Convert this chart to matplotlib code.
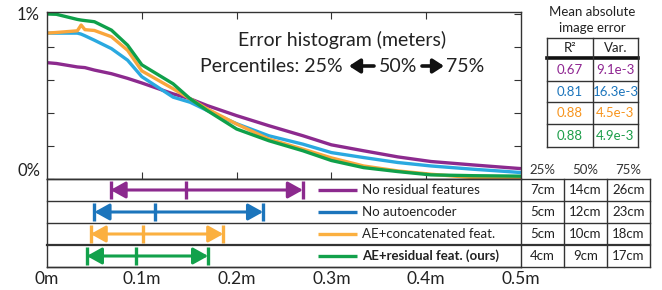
import numpy as np
import matplotlib.pyplot as plt

plt.rcParams['font.family'] = ['Lato', 'DejaVu Sans']

# error histogram, x in meters, y in percent
dist_m = [0, 0.01, 0.032, 0.036, 0.04, 0.05, 0.068, 0.085, 0.1, 0.133, 0.151, 0.169,
          0.2, 0.234, 0.27, 0.3, 0.334, 0.37, 0.405, 0.45, 0.486, 0.5]
hist_no_residual = [0.705, 0.70, 0.679, 0.677, 0.675, 0.66, 0.638, 0.61, 0.582, 0.516, 0.486, 0.445,
                    0.384, 0.323, 0.262, 0.207, 0.171, 0.134, 0.106, 0.085, 0.069, 0.063]
hist_no_ae = [0.884, 0.884, 0.884, 0.878, 0.868, 0.841, 0.79, 0.72, 0.62, 0.496, 0.465, 0.415,
              0.335, 0.262, 0.211, 0.16, 0.13, 0.10, 0.079, 0.059, 0.045, 0.039]
hist_concat = [0.884, 0.888, 0.898, 0.933, 0.905, 0.90, 0.862, 0.78, 0.655, 0.547, 0.486, 0.425,
               0.333, 0.242, 0.181, 0.128, 0.079, 0.049, 0.029, 0.008, 0.003, 0.003]
hist_ours = [1.0, 0.998, 0.967, 0.963, 0.96, 0.953, 0.902, 0.811, 0.692, 0.577, 0.486, 0.415,
             0.303, 0.232, 0.171, 0.112, 0.069, 0.045, 0.025, 0.020, 0.018, 0.017]

methods = ['No residual features', 'No autoencoder', 'AE+concatenated feat.', 'AE+residual feat. (ours)']
p25 = [0.067, 0.050, 0.046, 0.042]
p50 = [0.147, 0.114, 0.101, 0.094]
p75 = [0.270, 0.228, 0.186, 0.170]
pct_text = [['7cm', '14cm', '26cm'], ['5cm', '12cm', '23cm'],
            ['5cm', '10cm', '18cm'], ['4cm', '9cm', '17cm']]
r2 = ['0.67', '0.81', '0.88', '0.88']
var = ['9.1e-3', '16.3e-3', '4.5e-3', '4.9e-3']

curve_colors = ['#8C2A8E', '#2AA9E0', '#F9A63C', '#0FA04A']
bar_colors = ['#8C2A8E', '#1C75BC', '#FBB040', '#12A14B']
text_colors = ['#8E2491', '#1C75BC', '#F7941D', '#1D9E4A']
edge = '#333333'
ink = '#222222'

W, H = 662, 290
fig = plt.figure(figsize=(W / 100, H / 100), dpi=100)


def box(x0, y0, x1, y1):
    return [x0 / W, 1 - y1 / H, (x1 - x0) / W, (y1 - y0) / H]


# histogram
ax = fig.add_axes(box(47, 12, 521, 179))
for ys, c in zip([hist_no_residual, hist_no_ae, hist_concat, hist_ours], curve_colors):
    ax.plot(dist_m, ys, color=c, lw=2.4, solid_capstyle='butt')
ax.set_xlim(0, 0.5)
ax.set_ylim(0, 1.012)
ax.set_xticks([0.1, 0.2, 0.3, 0.4])
ax.set_xticklabels([])
ax.set_yticks([0, 0.2, 0.4, 0.6, 0.8, 1.0])
ax.set_yticklabels(['0%', '', '', '', '', '1%'], fontsize=12, color=ink)
ax.get_yticklabels()[0].set_va('bottom')
ax.tick_params(direction='in', top=True, right=True, length=5, width=0.8, color=edge, pad=5)
for s in ax.spines.values():
    s.set_color(edge)
    s.set_linewidth(1.0)

# percentile bars
axb = fig.add_axes(box(47, 179, 521, 267))
axb.set_xlim(0, 0.5)
axb.set_ylim(4, 0)
for i in range(4):
    row = i + 0.5
    c = bar_colors[i]
    axb.annotate('', xy=(p75[i], row), xytext=(p25[i], row),
                 arrowprops=dict(arrowstyle='<|-|>,head_length=0.9,head_width=0.5',
                                 color=c, lw=2.2, shrinkA=0, shrinkB=0))
    axb.vlines([p25[i], p50[i], p75[i]], row - 0.42, row + 0.42, color=c, lw=2.4)
axb.set_yticks([])
axb.set_xticks([0, 0.1, 0.2, 0.3, 0.4, 0.5])
axb.set_xticklabels(['0m', '0.1m', '0.2m', '0.3m', '0.4m', '0.5m'], fontsize=12.5, color=ink)
axb.tick_params(axis='x', length=0, pad=3)
for s in axb.spines.values():
    s.set_color(edge)
    s.set_linewidth(1.0)

# overlay for title, legend and tables (pixel coordinates)
ov = fig.add_axes([0, 0, 1, 1])
ov.set_xlim(0, W)
ov.set_ylim(H, 0)
ov.axis('off')
ov.patch.set_visible(False)

ov.text(342, 40, 'Error histogram (meters)', fontsize=14, color=ink, ha='center', va='center')
ov.text(343, 66, 'Percentiles: 25%', fontsize=14, color=ink, ha='right', va='center')
ov.text(398, 66, '50%', fontsize=14, color=ink, ha='center', va='center')
ov.text(446, 66, '75%', fontsize=14, color=ink, ha='left', va='center')
arrow = dict(arrowstyle='-|>,head_length=0.65,head_width=0.42', color='#111111', lw=2.6,
             shrinkA=0, shrinkB=0)
ov.annotate('', xy=(349, 66), xytext=(374, 66), arrowprops=arrow)
ov.annotate('', xy=(444, 66), xytext=(422, 66), arrowprops=arrow)

row_y = [179, 201, 223, 245, 267]
for k, y in enumerate(row_y):
    lw = 1.6 if k == 3 else 1.0
    ov.plot([47, 650], [y, y], color=edge, lw=lw)
for x in [564, 607, 650]:
    ov.plot([x, x], [179, 267], color=edge, lw=1.0)

for i, name in enumerate(methods):
    yc = (row_y[i] + row_y[i + 1]) / 2
    ov.plot([318, 357], [yc, yc], color=bar_colors[i], lw=2.4, solid_capstyle='butt')
    ov.text(362, yc, name, fontsize=9.5, color=ink, va='center', ha='left',
            fontweight='bold' if i == 3 else 'normal')
    for j, t in enumerate(pct_text[i]):
        ov.text([542.5, 585.5, 628.5][j], yc, t, fontsize=9.5, color=ink,
                ha='center', va='center')

for x, t in zip([542.5, 585.5, 628.5], ['25%', '50%', '75%']):
    ov.text(x, 170, t, fontsize=9.5, color='#333333', ha='center', va='center')

# mean absolute image error table
ov.text(592, 12, 'Mean absolute', fontsize=9.5, color=ink, ha='center', va='center')
ov.text(592, 28, 'image error', fontsize=9.5, color=ink, ha='center', va='center')
tab_y = [38, 58, 81, 102, 124, 147]
tab_x = [547, 593, 638]
for k, y in enumerate(tab_y):
    ov.plot([547, 638], [y, y], color='#111111' if k == 1 else edge, lw=2.6 if k == 1 else 1.0)
for x in tab_x:
    ov.plot([x, x], [38, 147], color=edge, lw=1.0)
ov.text(570, 48, 'R\u00b2', fontsize=9.5, color=ink, ha='center', va='center')
ov.text(615.5, 48, 'Var.', fontsize=9.5, color=ink, ha='center', va='center')
for i in range(4):
    yc = (tab_y[i + 1] + tab_y[i + 2]) / 2
    ov.text(570, yc, r2[i], fontsize=9.5, color=text_colors[i], ha='center', va='center')
    ov.text(615.5, yc, var[i], fontsize=9.5, color=text_colors[i], ha='center', va='center')

fig.savefig('out.png', dpi=100)
